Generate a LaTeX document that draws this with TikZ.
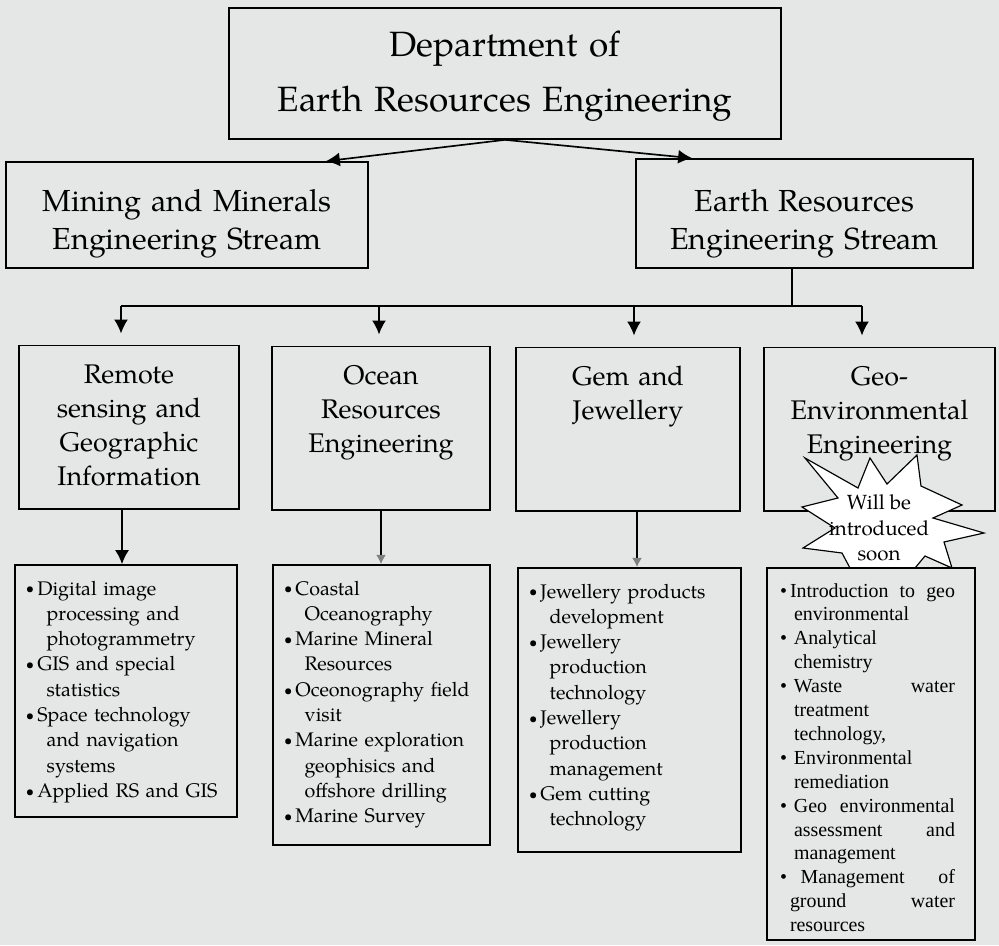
\documentclass[tikz,border=0pt]{standalone}
\usepackage{fontspec}
\setmainfont{TeX Gyre Pagella}
\newfontfamily\timesfont{Liberation Serif}
\usetikzlibrary{arrows.meta}
\definecolor{scanbg}{RGB}{229,230,230}
\newcommand{\itemdot}{\makebox[3.4mm][l]{\raisebox{0.12ex}{\scalebox{0.75}{\textbullet}}}}
\newcommand{\itemgap}{\hspace*{6.2mm}}
\newcommand{\jline}[1]{\leavevmode\hbox to 52.5mm{#1}}

\begin{document}
\begin{tikzpicture}[x=0.3mm,y=-0.3mm,
    box/.style={draw,line width=0.5mm,inner sep=0pt},
    streambox/.style={box,font=\fontsize{26}{33}\selectfont,align=center,text depth=17.1mm},
    headbox/.style={box,font=\fontsize{23}{29}\selectfont,align=center,text height=11.4mm,text depth=37.6mm},
    listbox/.style={box,font=\fontsize{16.8}{21.6}\selectfont,align=left,inner xsep=3.3mm,text height=9mm},
    arr/.style={line width=0.5mm,-{Latex[length=4.2mm,width=4.2mm]}},
    faintarr/.style={line width=0.5mm,-{Latex[length=2.8mm,width=3mm,color=gray]}},
    burst/.style={draw,fill=white,line width=0.35mm,line join=miter}]
  \useasboundingbox (0,0) rectangle (999,945);
  \fill[scanbg] (0,0) rectangle (999,945);
  \node[box,text width=165.6mm,text height=14.4mm,text depth=24.9mm,font=\fontsize{30}{35}\selectfont,align=center] (dept) at (505,73.5) {Department of\\[12pt]Earth Resources Engineering};
  \node[streambox,text width=108.6mm,text height=14.7mm] (mining) at (187,215) {Mining and Minerals\\Engineering Stream};
  \node[streambox,text width=101.1mm,text height=15.6mm] (earth) at (804.5,213.5) {Earth Resources\\Engineering Stream};
  \draw[arr] (dept.south) -- ([xshift=-12.9mm]mining.north east);
  \draw[arr] (dept.south) -- ([xshift=17.1mm]earth.north west);
  \node[headbox,text width=66mm] (remote) at (129,427) {Remote\\sensing and\\Geographic\\Information};
  \node[headbox,text width=65.4mm] (ocean) at (381,428) {Ocean\\Resources\\Engineering};
  \node[headbox,text width=67.2mm] (gem) at (628,429) {Gem and\\Jewellery};
  \node[headbox,text width=69.3mm] (geo) at (879.5,429) {Geo-\\Environmental\\Engineering};
  \coordinate (bus) at (792,306);
  \coordinate (d1) at (121,306);
  \coordinate (d2) at (379,306);
  \coordinate (d3) at (634,306);
  \coordinate (d4) at (862,306);
  \draw[line width=0.5mm] (earth.south -| bus) -- (bus);
  \draw[line width=0.5mm] (d1) -- (d4);
  \draw[arr,shorten >=3.3mm] (d1) -- (d1 |- remote.north);
  \draw[arr,shorten >=3.3mm] (d2) -- (d2 |- ocean.north);
  \draw[arr,shorten >=3.3mm] (d3) -- (d3 |- gem.north);
  \draw[arr,shorten >=3.3mm] (d4) -- (d4 |- geo.north);
  \node[listbox,text width=60mm,text depth=66.6mm] (rlist) at (126,691) {\itemdot Digital image\\\itemgap processing and\\\itemgap photogrammetry\\\itemdot GIS and special\\\itemgap statistics\\\itemdot Space technology\\\itemgap and navigation\\\itemgap systems\\\itemdot Applied RS and GIS};
  \node[listbox,text width=58.5mm,text depth=75mm] (olist) at (381.5,705) {\itemdot Coastal\\\itemgap Oceanography\\\itemdot Marine Mineral\\\itemgap Resources\\\itemdot Oceonography field\\\itemgap visit\\\itemdot Marine exploration\\\itemgap geophisics and\\\itemgap offshore drilling\\\itemdot Marine Survey};
  \node[listbox,text width=60.3mm,text depth=76.2mm] (glist) at (629.5,710) {\itemdot Jewellery products\\\itemgap development\\\itemdot Jewellery\\\itemgap production\\\itemgap technology\\\itemdot Jewellery\\\itemgap production\\\itemgap management\\\itemdot Gem cutting\\\itemgap technology};
  \draw[arr] ([xshift=-2.1mm]remote.south) -- ([xshift=-2.1mm]remote.south |- rlist.north);
  \draw[faintarr] (ocean.south) -- (ocean.south |- olist.north);
  \draw[faintarr] ([xshift=2.7mm]gem.south) -- ([xshift=2.7mm]gem.south |- glist.north);
  \filldraw[burst] (805,458) -- (858,488) -- (870,458) -- (887,484) -- (917,455) -- (921,486) -- (962,505) -- (933,518) -- (984,533) -- (944,542) -- (952,568) -- (925,556) -- (915,568) -- (850,568) -- (842,553) -- (803,548) -- (835,528) -- (802,507) -- (838,498) -- cycle;
  \node[font=\fontsize{17.5}{21.7}\selectfont,align=center] (soon) at (879,528) {Will be\\introduced\\soon};
  \node[box,text width=54.6mm,inner xsep=3.9mm,align=left,text height=8.7mm,text depth=102.9mm,font=\timesfont\fontsize{17}{20.4}\selectfont] (elist) at (871,754) {%
    \jline{\makebox[3mm][l]{\textbullet}Introduction\hfill to\hfill geo}\\
    \jline{\hspace*{4.2mm}environmental\hfill}\\
    \jline{\makebox[4.2mm][l]{\textbullet}Analytical\hfill}\\
    \jline{\hspace*{4.2mm}chemistry\hfill}\\
    \jline{\makebox[4.2mm][l]{\textbullet}Waste\hfill water}\\
    \jline{\hspace*{4.2mm}treatment\hfill}\\
    \jline{\hspace*{4.2mm}technology,\hfill}\\
    \jline{\makebox[4.2mm][l]{\textbullet}Environmental\hfill}\\
    \jline{\hspace*{4.2mm}remediation\hfill}\\
    \jline{\makebox[4.2mm][l]{\textbullet}Geo\hfill environmental}\\
    \jline{\hspace*{4.2mm}assessment\hfill and}\\
    \jline{\hspace*{4.2mm}management\hfill}\\
    \jline{\makebox[4.2mm][l]{\textbullet}\ Management\hfill of}\\
    \jline{\hspace*{3mm}ground\hfill water}\\
    \jline{\hspace*{3mm}resources\hfill}};
\end{tikzpicture}
\end{document}
